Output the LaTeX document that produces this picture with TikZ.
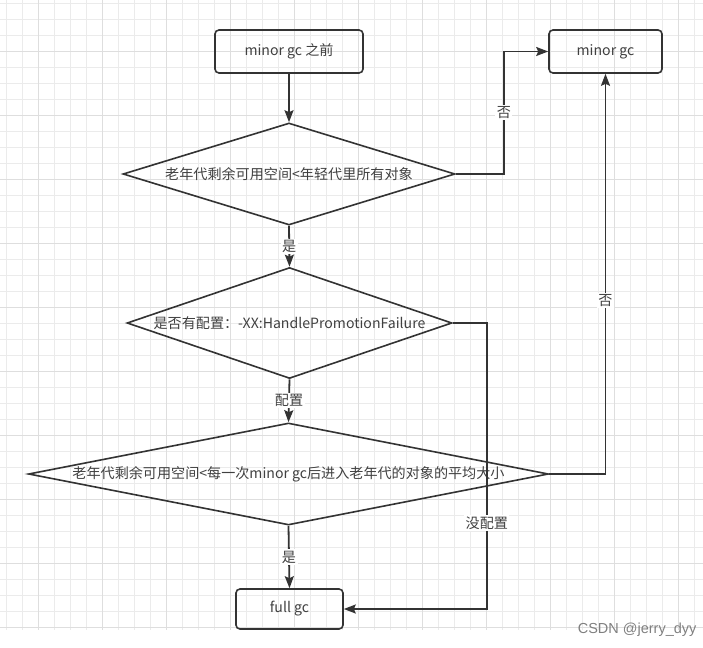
\documentclass[tikz,border=0pt]{standalone}
\usepackage{fontspec}
\setmainfont{Noto Sans CJK SC}
\newfontfamily\wmfont{Liberation Sans}
\usetikzlibrary{shapes.geometric,arrows.meta}
\definecolor{linec}{HTML}{333333}
\definecolor{textc}{HTML}{404040}
\definecolor{gridc}{HTML}{EBEBEB}
\definecolor{gridd}{HTML}{DEDEDE}
\begin{document}
\begin{tikzpicture}[x=1pt,y=-1pt,
  font=\fontsize{14.1}{16}\selectfont,
  box/.style={draw=linec,line width=1.6pt,rounded corners=4pt,text=textc,inner sep=0pt},
  decision/.style={diamond,draw=linec,line width=1.6pt,text=textc,inner sep=0pt},
  arr/.style={draw=linec,line width=1.8pt,-{Stealth[length=12pt,width=9pt,inset=2pt]}},
  lab/.style={fill=white,text=textc,inner sep=1.5pt}]
\useasboundingbox (0,0) rectangle (703,647);
\fill[white] (0,0) rectangle (703,647);
% grid
\foreach \x in {6.5,22.5,...,703} \draw[gridc,line width=0.8pt] (\x,0) -- (\x,630);
\foreach \y in {3.5,19.5,...,630} \draw[gridc,line width=0.8pt] (0,\y) -- (703,\y);
\foreach \x in {38.5,102.5,...,703} \draw[gridd,line width=0.8pt] (\x,0) -- (\x,630);
\foreach \y in {51.5,115.5,...,630} \draw[gridd,line width=0.8pt] (0,\y) -- (703,\y);
% nodes
\node[box,minimum width=148pt,minimum height=43pt] (start) at (289,51.5) {minor gc 之前};
\node[box,minimum width=113pt,minimum height=43pt] (mgc) at (605.5,51.5) {minor gc};
\node[decision,minimum width=332pt,minimum height=102pt] (d1) at (289,174) {\makebox[0pt]{老年代剩余可用空间<年轻代里所有对象}};
\node[decision,minimum width=325pt,minimum height=111pt] (d2) at (289.5,323) {\makebox[0pt]{是否有配置：-XX:HandlePromotionFailure}};
\node[decision,minimum width=520pt,minimum height=102pt] (d3) at (288.5,474) {\makebox[0pt]{老年代剩余可用空间<每一次minor gc后进入老年代的对象的平均大小}};
\node[box,minimum width=107pt,minimum height=40pt] (fgc) at (289.5,609) {full gc};
% connectors
\draw[arr] (start.south) -- (d1.north);
\draw[arr] (d1.east) -- ++(48,0) |- node[lab,pos=0.25] {否} (mgc.west);
\draw[arr] (d1.south) -- node[lab] {是} (d2.north);
\draw[arr] (d2.south) -- node[lab] {配置} (d3.north);
\draw[arr] (d2.east) -- ++(34,0) |- node[lab,pos=0.35] {没配置} (fgc.east);
\draw[arr] (d3.east) -| node[lab,pos=0.717] {否} (mgc.south);
\draw[arr] (d3.south) -- node[lab] {是} (fgc.north);
% watermark
\node[text=black!50,font=\wmfont\fontsize{14.5}{16}\selectfont,anchor=east] (wm) at (700,630) {CSDN @jerry\_dyy};
\end{tikzpicture}
\end{document}
